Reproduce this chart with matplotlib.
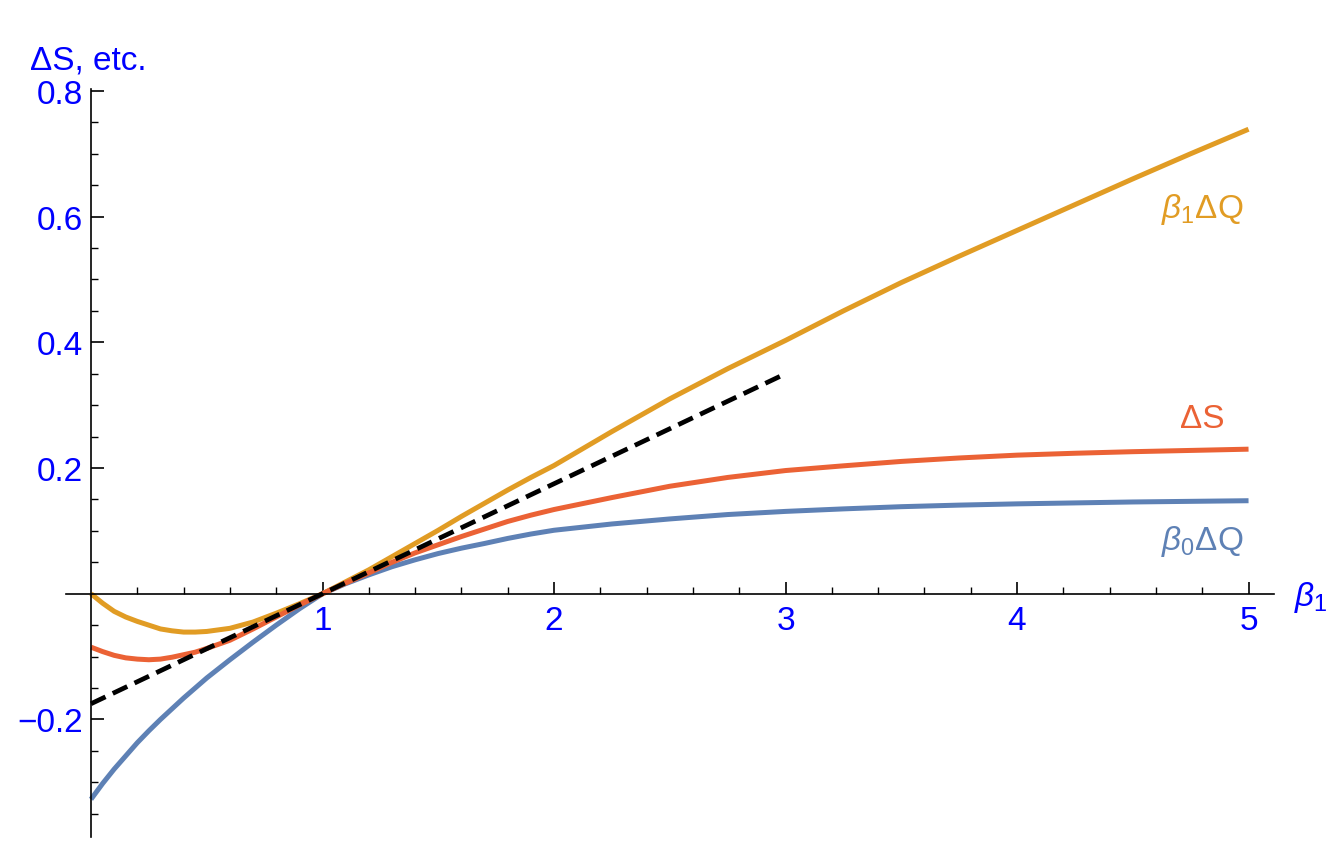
import numpy as np
import matplotlib
matplotlib.use("Agg")
import matplotlib.pyplot as plt

plt.rcParams['font.family'] = ['Liberation Sans', 'DejaVu Sans']
plt.rcParams['mathtext.fontset'] = 'custom'
plt.rcParams['mathtext.rm'] = 'Liberation Sans'
plt.rcParams['mathtext.it'] = 'Liberation Sans:italic'

# values
beta1 = [0, 0.05, 0.1, 0.15, 0.2, 0.25, 0.3, 0.35, 0.4, 0.45, 0.5, 0.6, 0.7, 0.8, 0.9, 1.0,
         1.1, 1.2, 1.3, 1.4, 1.5, 1.6, 1.7, 1.8, 1.9, 2.0,
         2.25, 2.5, 2.75, 3.0, 3.25, 3.5, 3.75, 4.0, 4.25, 4.5, 4.75, 5.0]
b0dq = [-0.327, -0.302, -0.279, -0.258, -0.237, -0.218, -0.200, -0.183, -0.166, -0.150,
        -0.134, -0.105, -0.077, -0.050, -0.024, 0.0,
        0.016, 0.030, 0.043, 0.054, 0.064, 0.0725, 0.080, 0.088, 0.095, 0.101,
        0.111, 0.119, 0.126, 0.131, 0.135, 0.1385, 0.141, 0.143, 0.1445, 0.146, 0.147, 0.148]
b1dq = [0.0, -0.015, -0.028, -0.037, -0.044, -0.050, -0.056, -0.059, -0.061, -0.061,
        -0.060, -0.055, -0.045, -0.031, -0.016, 0.0,
        0.019, 0.038, 0.059, 0.080, 0.101, 0.123, 0.144, 0.165, 0.185, 0.204,
        0.258, 0.310, 0.358, 0.403, 0.450, 0.495, 0.537, 0.578, 0.619, 0.660, 0.700, 0.739]
ds = [-0.085, -0.092, -0.098, -0.102, -0.104, -0.105, -0.104, -0.101, -0.097, -0.093,
      -0.087, -0.074, -0.056, -0.037, -0.018, 0.0,
      0.017, 0.033, 0.050, 0.065, 0.078, 0.091, 0.103, 0.115, 0.125, 0.134,
      0.153, 0.171, 0.185, 0.196, 0.2035, 0.2105, 0.216, 0.2205, 0.2235, 0.226, 0.228, 0.230]
tangent_x = [0, 3]
tangent_y = [-0.175, 0.35]

c_blue = '#5E81B5'
c_orange = '#E19C24'
c_red = '#EB6235'
c_text = '#0000FF'

fig = plt.figure(figsize=(13.4, 8.54), dpi=100)
ax = fig.add_axes([66/1340, 1 - 838/854, (1274-66)/1340, (838-90)/854])

ax.plot(beta1, b0dq, color=c_blue, lw=3.6, solid_capstyle='butt', solid_joinstyle='round')
ax.plot(beta1, b1dq, color=c_orange, lw=3.6, solid_capstyle='butt', solid_joinstyle='round')
ax.plot(beta1, ds, color=c_red, lw=3.6, solid_capstyle='butt', solid_joinstyle='round')
ax.plot(tangent_x, tangent_y, color='black', lw=3.4, dashes=(3.4, 1.7))

ax.set_xlim(-0.108, 5.11)
ax.set_ylim(-0.387, 0.803)

ax.spines['left'].set_position(('data', 0))
ax.spines['bottom'].set_position(('data', 0))
ax.spines['top'].set_visible(False)
ax.spines['right'].set_visible(False)
for s in ['left', 'bottom']:
    ax.spines[s].set_linewidth(1.2)

ax.set_xticks([1, 2, 3, 4, 5])
ax.set_xticks(np.arange(0.2, 5.01, 0.2), minor=True)
ax.set_yticks([-0.2, 0.2, 0.4, 0.6, 0.8])
ax.set_yticks([v for v in np.arange(-0.35, 0.801, 0.05) if abs(v) > 1e-9], minor=True)
ax.set_yticklabels(['\u22120.2', '0.2', '0.4', '0.6', '0.8'])
ax.tick_params(axis='both', which='major', direction='in', length=9, width=1.2,
               labelsize=24, labelcolor=c_text)
ax.tick_params(axis='both', which='minor', direction='in', length=5, width=1.0)
ax.tick_params(axis='x', which='major', pad=8)
ax.tick_params(axis='y', which='major', pad=6)

ax.text(4.80, 0.613, r'$\beta_1$ΔQ', color=c_orange, fontsize=24, ha='center', va='center')
ax.text(4.80, 0.279, 'ΔS', color=c_red, fontsize=24, ha='center', va='center')
ax.text(4.80, 0.084, r'$\beta_0$ΔQ', color=c_blue, fontsize=24, ha='center', va='center')

fig.text(30/1340, 1 - 70/854, 'ΔS, etc.', color=c_text, fontsize=24, va='baseline')
fig.text(1294/1340, 1 - 606/854, r'$\beta_1$', color=c_text, fontsize=24, va='baseline')

fig.savefig('out.png', dpi=100)
